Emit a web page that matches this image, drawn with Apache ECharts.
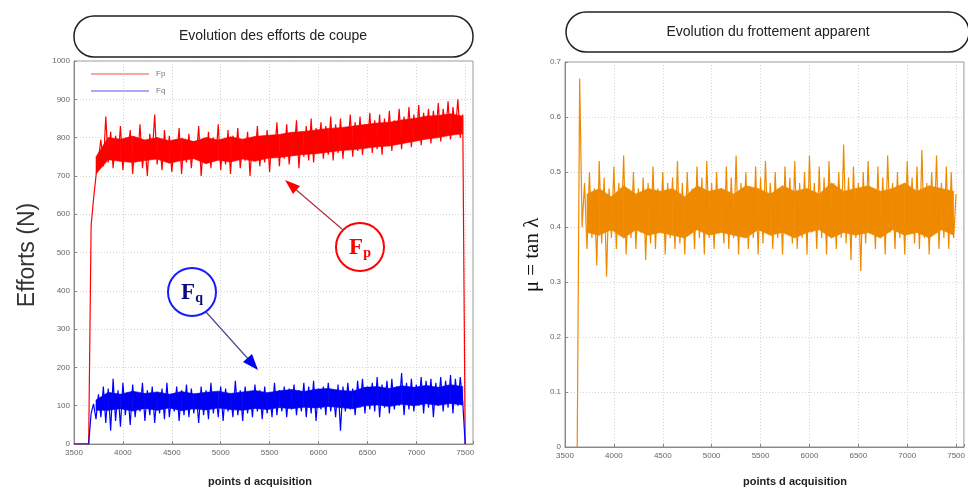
<!DOCTYPE html>
<html>
<head>
<meta charset="utf-8">
<script src="https://cdn.jsdelivr.net/npm/echarts@6/dist/echarts.min.js"></script>
<style>
html,body{margin:0;padding:0;background:#fff;}
#chart{width:968px;height:490px;}
</style>
</head>
<body>
<div id="chart"></div>
<script>
// Acquisition points: samples every 25 points from 3500 to 7500
const sampleStart = 3500;
const sampleStep = 25;
// Dense core of each noisy signal, read every 125 points from 3725 to 7475
const coreStart = 3725;
const coreStep = 125;

const xTicks = [3500, 4000, 4500, 5000, 5500, 6000, 6500, 7000, 7500];
const leftYTicks = [0, 100, 200, 300, 400, 500, 600, 700, 800, 900, 1000];
const rightYTicks = [0, 0.1, 0.2, 0.3, 0.4, 0.5, 0.6, 0.7];

const seriesNames = ['Fp', 'Fq'];

// Fp (N), from 3500 to 7500
const fpValues = [
  0, 0, 0, 0, 0, 0, 0,
  570, 640, 700, 745, 795, 725, 855, 735, 815, 720,
  805, 745, 830, 715, 790, 760, 820, 705, 800, 740,
  835, 720, 785, 700, 810, 755, 860, 730, 795, 715,
  820, 740, 805, 710, 780, 750, 825, 705, 795, 735,
  810, 720, 790, 745, 830, 700, 785, 735, 815, 720,
  800, 745, 835, 715, 790, 730, 820, 705, 805, 750,
  825, 720, 780, 740, 815, 700, 800, 745, 830, 725,
  795, 735, 820, 710, 805, 755, 840, 725, 810, 745,
  835, 730, 800, 760, 845, 720, 815, 750, 830, 740,
  850, 735, 825, 765, 840, 745, 830, 755, 855, 740,
  835, 760, 850, 745, 825, 770, 860, 750, 840, 765,
  855, 755, 835, 775, 865, 760, 845, 770, 860, 755,
  850, 780, 870, 765, 845, 785, 875, 770, 855, 790,
  880, 775, 860, 795, 885, 780, 865, 800, 875, 785,
  870, 805, 890, 790, 875, 810, 895, 795, 880, 815,
  900, 800, 860,
  0
];
const fpCoreLow = [705, 742, 738, 735, 740, 744, 733, 740, 745, 732, 741, 736, 744, 738, 746, 748, 752, 756, 758, 762, 766, 768, 772, 776, 778, 784, 790, 796, 800, 806, 810];
const fpCoreHigh = [750, 800, 796, 804, 794, 800, 792, 798, 790, 800, 794, 802, 796, 803, 806, 808, 814, 816, 820, 824, 826, 830, 834, 838, 840, 846, 850, 856, 858, 862, 856];

// Fq (N), from 3500 to 7500
const fqValues = [
  0, 0, 0, 0, 0, 0, 0,
  80, 105, 65, 130, 70, 150, 55, 145, 35, 170,
  60, 140, 45, 160, 75, 135, 50, 155, 70, 130,
  85, 160, 60, 140, 75, 150, 55, 135, 80, 145,
  65, 160, 70, 130, 85, 150, 60, 140, 75, 155,
  70, 145, 80, 130, 55, 150, 75, 140, 65, 160,
  80, 135, 70, 150, 60, 145, 85, 130, 70, 165,
  75, 140, 60, 150, 80, 135, 70, 155, 85, 140,
  65, 150, 80, 135, 70, 160, 75, 140, 85, 150,
  70, 145, 90, 155, 75, 140, 85, 160, 70, 150,
  80, 165, 60, 145, 90, 150, 75, 160, 85, 140,
  70, 155, 35, 150, 85, 160, 90, 145, 75, 165,
  95, 170, 80, 150, 90, 160, 85, 175, 70, 155,
  95, 165, 80, 170, 90, 150, 100, 185, 75, 160,
  90, 170, 85, 155, 100, 175, 80, 165, 95, 170,
  70, 160, 100, 175, 85, 165, 95, 180, 80, 170,
  100, 175, 110,
  0
];
const fqCoreLow = [88, 88, 92, 86, 93, 88, 94, 87, 92, 89, 94, 90, 88, 93, 90, 95, 92, 96, 94, 98, 95, 92, 100, 102, 98, 104, 100, 105, 101, 106, 102];
const fqCoreHigh = [115, 135, 130, 138, 132, 136, 130, 137, 131, 135, 138, 132, 136, 140, 134, 139, 142, 137, 143, 145, 140, 138, 148, 150, 145, 152, 148, 153, 148, 155, 150];

// mu = tan(lambda), from 3500 to 7500
const muValues = [
  null, null, null, null, null, 0, 0.67,
  0.40, 0.48, 0.36, 0.50, 0.38, 0.47, 0.33, 0.52, 0.37, 0.49,
  0.31, 0.47, 0.38, 0.51, 0.36, 0.48, 0.39, 0.53, 0.35, 0.46,
  0.38, 0.50, 0.36, 0.47, 0.39, 0.49, 0.34, 0.48, 0.37, 0.51,
  0.36, 0.47, 0.39, 0.50, 0.35, 0.48, 0.38, 0.49, 0.36, 0.52,
  0.37, 0.48, 0.35, 0.50, 0.39, 0.47, 0.36, 0.51, 0.38, 0.49,
  0.35, 0.52, 0.38, 0.48, 0.36, 0.50, 0.39, 0.47, 0.37, 0.51,
  0.36, 0.49, 0.38, 0.53, 0.35, 0.48, 0.39, 0.50, 0.36, 0.47,
  0.38, 0.51, 0.35, 0.49, 0.37, 0.52, 0.39, 0.48, 0.36, 0.50,
  0.38, 0.47, 0.35, 0.51, 0.39, 0.49, 0.37, 0.52, 0.36, 0.48,
  0.38, 0.50, 0.35, 0.53, 0.39, 0.48, 0.36, 0.51, 0.38, 0.49,
  0.35, 0.52, 0.39, 0.48, 0.36, 0.50, 0.38, 0.55, 0.37, 0.49,
  0.34, 0.51, 0.38, 0.48, 0.32, 0.50, 0.37, 0.52, 0.39, 0.47,
  0.36, 0.51, 0.38, 0.49, 0.35, 0.53, 0.39, 0.48, 0.36, 0.50,
  0.38, 0.47, 0.35, 0.52, 0.39, 0.49, 0.37, 0.51, 0.36, 0.54,
  0.38, 0.48, 0.35, 0.50, 0.39, 0.53, 0.36, 0.48, 0.38, 0.51,
  0.36, 0.50, 0.38, 0.46
];
const muCoreLow = [0.39, 0.385, 0.395, 0.38, 0.395, 0.385, 0.39, 0.385, 0.38, 0.395, 0.385, 0.39, 0.385, 0.38, 0.395, 0.385, 0.39, 0.38, 0.39, 0.395, 0.38, 0.39, 0.385, 0.39, 0.38, 0.395, 0.385, 0.39, 0.38, 0.395, 0.385];
const muCoreHigh = [0.46, 0.47, 0.455, 0.475, 0.46, 0.47, 0.465, 0.47, 0.455, 0.475, 0.465, 0.47, 0.46, 0.475, 0.47, 0.46, 0.475, 0.465, 0.47, 0.46, 0.48, 0.465, 0.47, 0.475, 0.465, 0.47, 0.48, 0.465, 0.475, 0.47, 0.465];

function toPairs(values, start, step) {
  return values.map((v, i) => [start + i * step, v]);
}
function bandSeries(id, low, high, color, xIdx, yIdx) {
  const data = low.map((l, i) => [coreStart + i * coreStep, l, high[i]]);
  return {
    name: id, type: 'custom', xAxisIndex: xIdx, yAxisIndex: yIdx, silent: true, z: 1,
    encode: {x: 0, y: [1, 2]},
    data: data,
    renderItem: function (params, api) {
      const i = params.dataIndex;
      if (i >= data.length - 1) return null;
      const a = data[i], b = data[i + 1];
      const pts = [api.coord([a[0], a[1]]), api.coord([b[0], b[1]]), api.coord([b[0], b[2]]), api.coord([a[0], a[2]])];
      return {type: 'polygon', shape: {points: pts}, style: {fill: color, stroke: color, lineWidth: 0.6}};
    }
  };
}

const chart = echarts.init(document.getElementById('chart'), null, {renderer: 'canvas'});

const tickLabelStyle = {fontSize: 8, color: '#666', fontFamily: 'Liberation Sans, Arial, sans-serif'};
const gridLine = {show: true, lineStyle: {color: '#d4d4d4', type: [1, 2], width: 1}};

function xAxisFor(gridIndex) {
  return {
    type: 'value', gridIndex: gridIndex,
    min: xTicks[0], max: 7580, interval: 500,
    axisLine: {show: true, onZero: false, lineStyle: {color: '#888'}},
    axisTick: {show: true, inside: true, length: 3, lineStyle: {color: '#888'}},
    axisLabel: Object.assign({margin: 5, formatter: v => xTicks.indexOf(v) >= 0 ? String(v) : ''}, tickLabelStyle),
    splitLine: gridLine
  };
}

const option = {
  animation: false,
  backgroundColor: '#fff',
  grid: [
    {left: 74, top: 61, width: 399, height: 383, show: true, borderColor: '#999', borderWidth: 1, backgroundColor: 'transparent'},
    {left: 565, top: 62, width: 408, height: 385, show: true, borderColor: '#999', borderWidth: 1, backgroundColor: 'transparent'}
  ],
  legend: {
    data: seriesNames,
    orient: 'vertical',
    left: 86, top: 65,
    itemWidth: 58, itemHeight: 2, itemGap: 9,
    icon: 'rect',
    textStyle: {fontSize: 8, color: '#777', padding: [0, 0, 0, 2]}
  },
  xAxis: [xAxisFor(0), xAxisFor(1)],
  yAxis: [
    {
      type: 'value', gridIndex: 0, min: leftYTicks[0], max: leftYTicks[leftYTicks.length - 1], interval: 100,
      axisLine: {show: true, lineStyle: {color: '#888'}},
      axisTick: {show: true, inside: true, length: 3, lineStyle: {color: '#888'}},
      axisLabel: Object.assign({margin: 4, formatter: v => String(v)}, tickLabelStyle),
      splitLine: gridLine
    },
    {
      type: 'value', gridIndex: 1, min: rightYTicks[0], max: rightYTicks[rightYTicks.length - 1], interval: 0.1,
      axisLine: {show: true, lineStyle: {color: '#888'}},
      axisTick: {show: true, inside: true, length: 3, lineStyle: {color: '#888'}},
      axisLabel: Object.assign({margin: 4, formatter: v => (Math.round(v * 10) / 10).toString()}, tickLabelStyle),
      splitLine: gridLine
    }
  ],
  series: [
    bandSeries('fpBand', fpCoreLow, fpCoreHigh, '#ff0000', 0, 0),
    bandSeries('fqBand', fqCoreLow, fqCoreHigh, '#0000ee', 0, 0),
    bandSeries('muBand', muCoreLow, muCoreHigh, '#ef8a00', 1, 1),
    {
      name: seriesNames[0], type: 'line', xAxisIndex: 0, yAxisIndex: 0,
      data: toPairs(fpValues, sampleStart, sampleStep), showSymbol: false, symbol: 'none',
      lineStyle: {color: '#ff0000', width: 1.2}, itemStyle: {color: '#f0a8a0'}, z: 3
    },
    {
      name: seriesNames[1], type: 'line', xAxisIndex: 0, yAxisIndex: 0,
      data: toPairs(fqValues, sampleStart, sampleStep), showSymbol: false, symbol: 'none',
      lineStyle: {color: '#0000ff', width: 1.2}, itemStyle: {color: '#aaaaf4'}, z: 3
    },
    {
      name: 'mu', type: 'line', xAxisIndex: 1, yAxisIndex: 1,
      data: toPairs(muValues, sampleStart, sampleStep), showSymbol: false, symbol: 'none', connectNulls: false,
      lineStyle: {color: '#ef8a00', width: 1.2}, z: 3
    }
  ],
  graphic: [
    // title boxes
    {type: 'rect', shape: {x: 74, y: 16, width: 399, height: 41, r: 20}, style: {fill: '#fff', stroke: '#222', lineWidth: 1.5}, z: 10},
    {type: 'text', x: 273, y: 36, style: {text: 'Evolution des efforts de coupe', font: '14px "Liberation Sans", Arial, sans-serif', fill: '#222', align: 'center', verticalAlign: 'middle'}, z: 11},
    {type: 'rect', shape: {x: 566, y: 12, width: 403, height: 40, r: 20}, style: {fill: '#fff', stroke: '#222', lineWidth: 1.5}, z: 10},
    {type: 'text', x: 768, y: 32, style: {text: 'Evolution du frottement apparent', font: '14px "Liberation Sans", Arial, sans-serif', fill: '#222', align: 'center', verticalAlign: 'middle'}, z: 11},
    // y axis names
    {type: 'text', x: 28, y: 255, rotation: Math.PI / 2, style: {text: 'Efforts (N)', font: '23px "Liberation Sans", Arial, sans-serif', fill: '#333', align: 'center', verticalAlign: 'middle'}},
    {type: 'text', x: 532, y: 255, rotation: Math.PI / 2, style: {text: 'μ = tan λ', font: '21px "Liberation Serif", "Times New Roman", serif', fill: '#111', align: 'center', verticalAlign: 'middle'}},
    // x axis names
    {type: 'text', x: 260, y: 482, style: {text: 'points d acquisition', font: 'bold 11px "Liberation Sans", Arial, sans-serif', fill: '#222', align: 'center', verticalAlign: 'middle'}},
    {type: 'text', x: 795, y: 482, style: {text: 'points d acquisition', font: 'bold 11px "Liberation Sans", Arial, sans-serif', fill: '#222', align: 'center', verticalAlign: 'middle'}},
    // Fp annotation
    {type: 'line', shape: {x1: 342, y1: 229, x2: 294, y2: 188}, style: {stroke: '#b03040', lineWidth: 1.2}, z: 20},
    {type: 'polygon', shape: {points: [[285, 180], [300, 186], [293, 194]]}, style: {fill: '#ff0000'}, z: 20},
    {type: 'circle', shape: {cx: 360, cy: 247, r: 24}, style: {fill: '#fff', stroke: '#ff0000', lineWidth: 2}, z: 21},
    {type: 'text', x: 360, y: 248, z: 22, style: {
      text: '{b|F}{s|p}', align: 'center', verticalAlign: 'middle',
      rich: {
        b: {font: 'bold 23px "Liberation Serif", serif', fill: '#ff0000'},
        s: {font: 'bold 14px "Liberation Serif", serif', fill: '#ff0000', padding: [10, 0, 0, 0]}
      }}},
    // Fq annotation
    {type: 'line', shape: {x1: 206, y1: 312, x2: 250, y2: 361}, style: {stroke: '#4a4a90', lineWidth: 1.2}, z: 20},
    {type: 'polygon', shape: {points: [[258, 370], [243, 362], [252, 354]]}, style: {fill: '#0000ff'}, z: 20},
    {type: 'circle', shape: {cx: 192, cy: 292, r: 24}, style: {fill: '#fff', stroke: '#1a1aff', lineWidth: 2}, z: 21},
    {type: 'text', x: 192, y: 293, z: 22, style: {
      text: '{b|F}{s|q}', align: 'center', verticalAlign: 'middle',
      rich: {
        b: {font: 'bold 23px "Liberation Serif", serif', fill: '#0a0a80'},
        s: {font: 'bold 14px "Liberation Serif", serif', fill: '#0a0a80', padding: [10, 0, 0, 0]}
      }}}
  ]
};

chart.setOption(option);
</script>
</body>
</html>
